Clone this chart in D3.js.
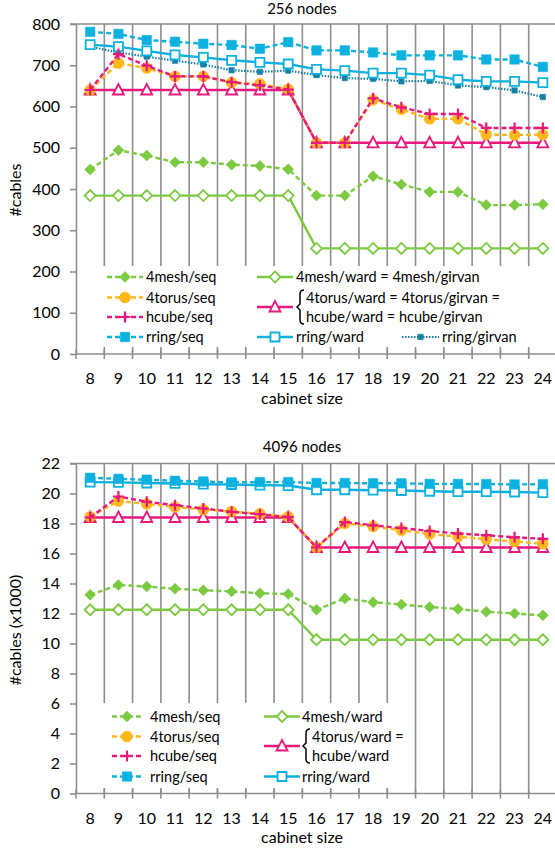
<!DOCTYPE html>
<html><head><meta charset="utf-8">
<script src="https://cdn.jsdelivr.net/npm/d3@7"></script>
<style>
body{margin:0;background:#fff}
svg{display:block}
text{font-family:Lato,"Liberation Sans",sans-serif;fill:#000}
</style></head>
<body><svg id="c" width="555" height="848"></svg>
<script>
// ---------- data ----------
const cabinetSizes = [8,9,10,11,12,13,14,15,16,17,18,19,20,21,22,23,24];

// 256 nodes
const n256_4mesh_seq   = [447,494,481,465,465,459,456,448,384,384,431,411,393,393,361,361,363];
const n256_4mesh_ward  = [384,384,384,384,384,384,384,384,256,256,256,256,256,256,256,256,256];
const n256_4torus_seq  = [640,705,693,673,673,658,655,642,512,512,616,593,570,570,532,531,532];
const n256_hcube_seq   = [640,727,699,673,673,659,651,641,512,512,620,598,582,582,548,548,548];
const n256_torus_ward  = [640,640,640,640,640,640,640,640,512,512,512,512,512,512,512,512,512];
const n256_rring_seq   = [781,776,761,757,752,749,740,756,736,736,731,724,724,724,714,714,696];
const n256_rring_ward  = [750,745,735,725,719,712,707,703,690,687,681,681,676,665,661,661,658];
const n256_rring_girvan= [745,731,721,711,702,688,684,687,676,669,667,661,662,651,647,639,623];
const n256_yTicks = [0,100,200,300,400,500,600,700,800];

// 4096 nodes (x1000)
const n4096_4mesh_seq  = [13.25,13.9,13.8,13.65,13.55,13.47,13.35,13.3,12.25,13.0,12.75,12.6,12.43,12.3,12.12,12.0,11.88];
const n4096_4mesh_ward = [12.25,12.25,12.25,12.25,12.25,12.25,12.25,12.25,10.25,10.25,10.25,10.25,10.25,10.25,10.25,10.25,10.25];
const n4096_4torus_seq = [18.45,19.5,19.3,19.1,18.92,18.8,18.65,18.45,16.4,18.0,17.8,17.55,17.3,17.12,16.95,16.8,16.65];
const n4096_hcube_seq  = [18.4,19.8,19.45,19.22,19.0,18.78,18.62,18.42,16.4,18.1,17.88,17.7,17.5,17.33,17.22,17.08,16.98];
const n4096_torus_ward = [18.4,18.4,18.4,18.4,18.4,18.4,18.4,18.4,16.4,16.4,16.4,16.4,16.4,16.4,16.4,16.4,16.4];
const n4096_rring_seq  = [21.05,20.98,20.92,20.85,20.8,20.74,20.76,20.76,20.7,20.7,20.68,20.68,20.64,20.64,20.63,20.6,20.62];
const n4096_rring_ward = [20.76,20.74,20.7,20.67,20.62,20.6,20.56,20.53,20.25,20.25,20.22,20.2,20.15,20.12,20.12,20.1,20.06];
const n4096_yTicks = [0,2,4,6,8,10,12,14,16,18,20,22];

// ---------- styles ----------
const C = {green:"#7cc942", orange:"#ffb81c", magenta:"#e8197c", cyan:"#0db1e0", teal:"#1780a6", grid:"#8e8e8e"};
const svg = d3.select("#c");

function markerPath(type, size){
  const s = size;
  if(type==="diamond") return `M0,${-s/2}L${s/2},0L0,${s/2}L${-s/2},0Z`;
  if(type==="square") return `M${-s/2},${-s/2}h${s}v${s}h${-s}Z`;
  if(type==="triangle") return `M0,${-s/2-1}L${s/2+0.5},${s/2-0.5}L${-s/2-0.5},${s/2-0.5}Z`;
  if(type==="plus") return `M${-s/2},0H${s/2}M0,${-s/2}V${s/2}`;
  if(type==="circle") return d3.symbol(d3.symbolCircle, s*s*0.78)();
  return "";
}
function drawMarker(g, type, x, y, color, open, size){
  const p = g.append("path").attr("d", markerPath(type,size)).attr("transform",`translate(${x},${y})`);
  if(type==="plus") p.attr("fill","none").attr("stroke",color).attr("stroke-width",2.2);
  else if(open) p.attr("fill","#fff").attr("stroke",color).attr("stroke-width",1.8);
  else p.attr("fill",color).attr("stroke",color).attr("stroke-width",0.5);
}

function drawChart(cfg){
  const g = svg.append("g");
  const x = d3.scaleBand().domain(cabinetSizes).range([cfg.left, cfg.right]).paddingInner(0).paddingOuter(0);
  const y = d3.scaleLinear().domain(cfg.yDomain).range([cfg.bottom, cfg.top]);
  const xc = d => x(d) + x.bandwidth()/2;

  const bounds = cabinetSizes.slice(1).map(d => x(d)).concat([cfg.right]);
  g.selectAll(".vg").data(bounds).enter().append("line")
    .attr("x1",d=>d).attr("x2",d=>d).attr("y1",cfg.top).attr("y2",cfg.bottom)
    .attr("stroke",C.grid).attr("stroke-width",1.6);
  g.append("line").attr("x1",cfg.left-6).attr("x2",cfg.right).attr("y1",y(cfg.yDomain[1])).attr("y2",y(cfg.yDomain[1]))
    .attr("stroke",C.grid).attr("stroke-width",1.6);

  const ya = g.append("g").attr("transform",`translate(${cfg.left},0)`)
    .call(d3.axisLeft(y).tickValues(cfg.yTicks).tickSize(6).tickPadding(10).tickSizeOuter(0));
  ya.select(".domain").attr("stroke",C.grid).attr("stroke-width",1.6);
  ya.selectAll(".tick line").attr("stroke",C.grid).attr("stroke-width",1.6);
  ya.selectAll("text").style("font-size","16px");

  const xa = g.append("g").attr("transform",`translate(0,${cfg.bottom})`)
    .call(d3.axisBottom(x).tickSize(0).tickPadding(19));
  xa.select(".domain").remove();
  xa.selectAll("text").style("font-size","16px");
  g.append("line").attr("x1",cfg.left).attr("x2",cfg.right).attr("y1",cfg.bottom).attr("y2",cfg.bottom)
    .attr("stroke",C.grid).attr("stroke-width",1.6);
  g.selectAll(".xt").data([cfg.left].concat(bounds)).enter().append("line")
    .attr("x1",d=>d).attr("x2",d=>d).attr("y1",cfg.bottom-4).attr("y2",cfg.bottom+5)
    .attr("stroke",C.grid).attr("stroke-width",1.6);

  g.append("rect").attr("x",cfg.legBox[0]).attr("y",cfg.legBox[1]).attr("width",cfg.legBox[2]).attr("height",cfg.legBox[3]).attr("fill","#fff");

  const line = d3.line().x((d,i)=>xc(cabinetSizes[i])).y(d=>y(d));
  cfg.series.forEach(s=>{
    g.append("path").datum(s.values).attr("d",line).attr("fill","none")
      .attr("stroke",s.color).attr("stroke-width",s.width||2.4)
      .attr("stroke-dasharray",s.dash||null).attr("stroke-linejoin","round");
    s.values.forEach((v,i)=>drawMarker(g, s.marker, xc(cabinetSizes[i]), y(v), s.color, s.open, s.size||10));
  });

  cfg.legend.forEach(l=>{
    const s = l.series;
    g.append("line").attr("x1",l.x1).attr("x2",l.x2).attr("y1",l.y).attr("y2",l.y)
      .attr("stroke",s.color).attr("stroke-width",s.width||2.4).attr("stroke-dasharray",s.dash||null);
    drawMarker(g, s.marker, (l.x1+l.x2)/2, l.y, s.color, s.open, s.size||10);
    if(l.bracket){
      const bx=l.bracket[0], bt=l.bracket[1], bb=l.bracket[2], m=(bt+bb)/2;
      g.append("path").attr("d",`M${bx+4},${bt}Q${bx},${bt} ${bx},${bt+4}L${bx},${m-3}L${bx-3},${m}L${bx},${m+3}L${bx},${bb-4}Q${bx},${bb} ${bx+4},${bb}`)
        .attr("fill","none").attr("stroke","#000").attr("stroke-width",1.5);
    }
    l.texts.forEach(t=>{
      g.append("text").attr("x",t[0]).attr("y",t[1]).attr("dy","0.35em").style("font-size","14.5px").text(t[2]);
    });
  });

  g.append("text").attr("x",cfg.titleX).attr("y",cfg.titleY).attr("dy","0.35em").attr("text-anchor","middle").style("font-size","15px").text(cfg.title);
  g.append("text").attr("x",cfg.titleX).attr("y",cfg.xLabelY).attr("dy","0.35em").attr("text-anchor","middle").style("font-size","16px").text("cabinet size");
  g.append("text").attr("transform",`translate(15,${cfg.yLabelY}) rotate(-90)`).attr("dy","0.35em").attr("text-anchor","middle").style("font-size","16px").text(cfg.yLabel);
}

// ---------- chart 1 ----------
const s1 = {
  mseq:{values:n256_4mesh_seq,color:C.green,dash:"5,3",marker:"diamond",size:11},
  mward:{values:n256_4mesh_ward,color:C.green,marker:"diamond",open:true,size:11},
  tseq:{values:n256_4torus_seq,color:C.orange,dash:"5,3",marker:"circle",size:11},
  hseq:{values:n256_hcube_seq,color:C.magenta,dash:"5,3",marker:"plus",size:11},
  tward:{values:n256_torus_ward,color:C.magenta,marker:"triangle",open:true,size:10},
  rseq:{values:n256_rring_seq,color:C.cyan,dash:"5,3",marker:"square",size:9.5},
  rward:{values:n256_rring_ward,color:C.cyan,marker:"square",open:true,size:9},
  rgirv:{values:n256_rring_girvan,color:C.teal,dash:"1.5,1.5",marker:"square",size:5.5,width:2.2}
};
drawChart({
  title:"256 nodes", titleX:302, titleY:9, xLabelY:398, yLabel:"#cables", yLabelY:190,
  left:76, right:557, top:24, bottom:354, yDomain:[0,800], yTicks:n256_yTicks,
  legBox:[97,266,450,81],
  series:[s1.mward,s1.mseq,s1.tward,s1.rgirv,s1.rward,s1.rseq,s1.tseq,s1.hseq],
  legend:[
    {series:s1.mseq,x1:107,x2:143,y:277,texts:[[146,277,"4mesh/seq"]]},
    {series:s1.mward,x1:257,x2:293,y:277,texts:[[296,277,"4mesh/ward = 4mesh/girvan"]]},
    {series:s1.tseq,x1:107,x2:143,y:297.5,texts:[[146,297.5,"4torus/seq"]]},
    {series:s1.hseq,x1:107,x2:143,y:317,texts:[[146,317,"hcube/seq"]]},
    {series:s1.tward,x1:257,x2:293,y:307,bracket:[300,290,324],texts:[[306,297.5,"4torus/ward = 4torus/girvan ="],[306,317,"hcube/ward = hcube/girvan"]]},
    {series:s1.rseq,x1:107,x2:143,y:337,texts:[[146,337,"rring/seq"]]},
    {series:s1.rward,x1:257,x2:293,y:337,texts:[[296,337,"rring/ward"]]},
    {series:s1.rgirv,x1:402,x2:439,y:337,texts:[[442,337,"rring/girvan"]]}
  ]
});

// ---------- chart 2 ----------
const s2 = {
  mseq:{values:n4096_4mesh_seq,color:C.green,dash:"5,3",marker:"diamond",size:11},
  mward:{values:n4096_4mesh_ward,color:C.green,marker:"diamond",open:true,size:11},
  tseq:{values:n4096_4torus_seq,color:C.orange,dash:"5,3",marker:"circle",size:11},
  hseq:{values:n4096_hcube_seq,color:C.magenta,dash:"5,3",marker:"plus",size:11},
  tward:{values:n4096_torus_ward,color:C.magenta,marker:"triangle",open:true,size:10},
  rseq:{values:n4096_rring_seq,color:C.cyan,dash:"5,3",marker:"square",size:9.5},
  rward:{values:n4096_rring_ward,color:C.cyan,marker:"square",open:true,size:9}
};
drawChart({
  title:"4096 nodes", titleX:302, titleY:447, xLabelY:837, yLabel:"#cables (x1000)", yLabelY:630,
  left:76, right:557, top:463.5, bottom:793.5, yDomain:[0,22], yTicks:n4096_yTicks,
  legBox:[97,703,303,85],
  series:[s2.mward,s2.mseq,s2.tward,s2.rward,s2.rseq,s2.tseq,s2.hseq],
  legend:[
    {series:s2.mseq,x1:112,x2:142,y:716.5,texts:[[150,716.5,"4mesh/seq"]]},
    {series:s2.mward,x1:264,x2:300,y:716.5,texts:[[302,716.5,"4mesh/ward"]]},
    {series:s2.tseq,x1:112,x2:142,y:736.5,texts:[[150,736.5,"4torus/seq"]]},
    {series:s2.hseq,x1:112,x2:142,y:756,texts:[[150,756,"hcube/seq"]]},
    {series:s2.tward,x1:264,x2:300,y:746,bracket:[306,729,763],texts:[[312,736.5,"4torus/ward ="],[312,756,"hcube/ward"]]},
    {series:s2.rseq,x1:112,x2:142,y:776.5,texts:[[150,776.5,"rring/seq"]]},
    {series:s2.rward,x1:264,x2:300,y:776.5,texts:[[302,776.5,"rring/ward"]]}
  ]
});
</script></body></html>
